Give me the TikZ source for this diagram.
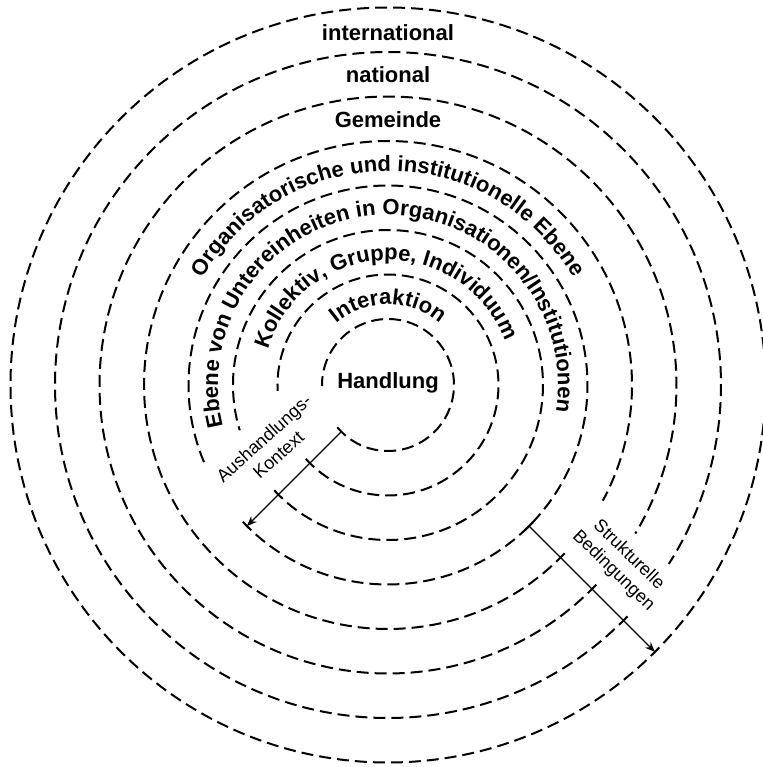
\documentclass[tikz,border=0pt]{standalone}
\usepackage{fontspec}
\setmainfont{Liberation Sans}
\usetikzlibrary{arrows.meta,decorations.text}

\newcommand\levelfont{\fontsize{11}{13}\selectfont\bfseries}

\begin{document}
\begin{tikzpicture}[x=0.5pt, y=0.5pt,
  ring/.style={line width=1pt, dash pattern=on 6pt off 3pt},
  pointer/.style={line width=0.7pt, -{Stealth[length=5pt,width=4pt]}},
  crossmark/.style={line width=1pt},
  level/.style={font=\levelfont, anchor=base},
  note/.style={font=\fontsize{9}{11}\selectfont, align=center}]
\useasboundingbox (-388,-382) rectangle (374,385);
\draw[ring] (219.8:66) arc[start angle=219.8, end angle=541, radius=66];
\draw[ring] (221.9:110.5) arc[start angle=221.9, end angle=543, radius=110.5];
\draw[ring] (222.8:155) arc[start angle=222.8, end angle=557, radius=155];
\draw[ring] (223.3:199.5) arc[start angle=223.3, end angle=564, radius=199.5];
\draw[ring] (-43.6:244) arc[start angle=-43.6, end angle=-388.3, radius=244];
\draw[ring] (-43.8:288.5) arc[start angle=-43.8, end angle=-391, radius=288.5];
\draw[ring] (-44:333) arc[start angle=-44, end angle=-392.5, radius=333];
\draw[ring] (0,0) circle[radius=377.5];
\coordinate (innerStart) at (225:66);
\coordinate (innerEnd) at (225:199.5);
\coordinate (outerStart) at (-45:199.5);
\coordinate (outerEnd) at (-45:377.5);
\draw[pointer] (innerStart) -- (innerEnd);
\draw[pointer] (outerStart) -- (outerEnd);
\draw[crossmark] ([shift={(45:6)}]outerStart) -- ([shift={(225:6)}]outerStart);
\node[level] (handlung) at (0,-3) {Handlung};
\node[level] (gemeinde) at (0,258) {Gemeinde};
\node[level] (national) at (0,303) {national};
\node[level] (international) at (0,345) {international};
\path[decorate, decoration={text along path, text align=center,
  text={|\levelfont|Interaktion}}] (180:80.5) arc[start angle=180, end angle=0, radius=80.5];
\path[decorate, decoration={text along path, text align=center,
  text={|\levelfont|Kollektiv, Gruppe, Individuum}}] (192:125) arc[start angle=192, end angle=-8, radius=125];
\path[decorate, decoration={text along path, text align=center,
  text={|\levelfont|Ebene von Untereinheiten in Organisationen/Institutionen}}] (207.5:170) arc[start angle=207.5, end angle=-22.5, radius=170];
\path[decorate, decoration={text along path, text align=center,
  text={|\levelfont|Organisatorische und institutionelle Ebene}}] (180:214) arc[start angle=180, end angle=0, radius=214];
\node[note, rotate=42] (aushandlung) at (-117,-61.5) {Aushandlungs-\\Kontext};
\node[note, rotate=-44] (bedingungen) at (233,-178) {Strukturelle\\Bedingungen};
\end{tikzpicture}
\end{document}
